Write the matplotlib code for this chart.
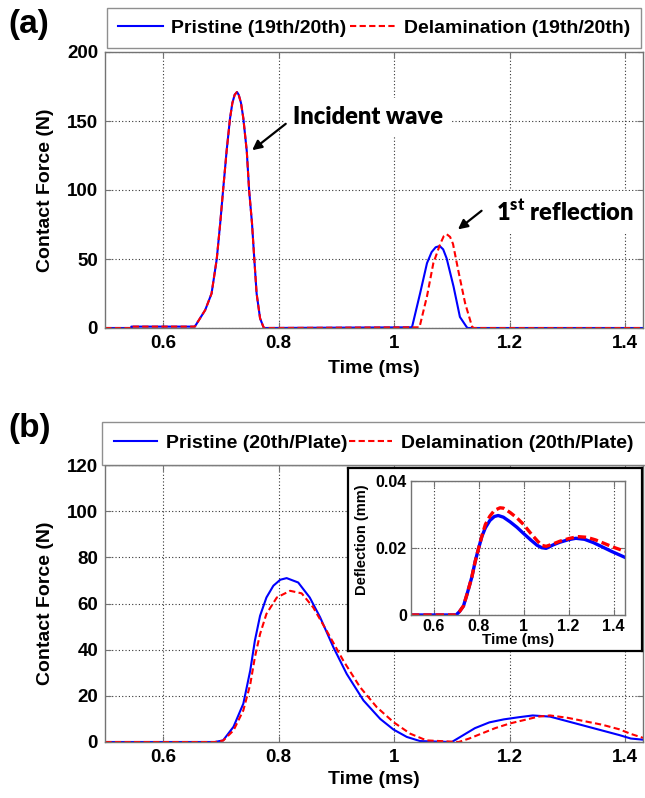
import matplotlib
matplotlib.use('Agg')
import matplotlib.pyplot as plt

plt.rcParams['font.family'] = ['Liberation Sans', 'DejaVu Sans']
plt.rcParams['font.weight'] = 'bold'
plt.rcParams['mathtext.fontset'] = 'custom'
plt.rcParams['mathtext.rm'] = 'Lato:heavy'
plt.rcParams['mathtext.bf'] = 'Lato:heavy'

W, H = 645, 798

# ── data: (a) contact force, 19th/20th ───────────────────────
t_a_pri = [0.50, 0.545, 0.545, 0.655, 0.673, 0.684, 0.693, 0.699, 0.704, 0.710, 0.716,
           0.720, 0.724, 0.728, 0.731, 0.735, 0.739, 0.745, 0.749, 0.754, 0.758, 0.762,
           0.768, 0.774, 0.776,
           1.031, 1.045, 1.057, 1.065, 1.072, 1.079, 1.085, 1.091, 1.103, 1.114, 1.126,
           1.128, 1.431]
f_a_pri = [0, 0, 1, 1, 13, 25, 50, 76, 100, 128, 152,
           163, 169, 171, 169, 163, 152, 128, 100, 76, 50, 25,
           7, 0.5, 0,
           0.5, 25, 47, 55, 58.5, 59.4, 57, 50.5, 30, 8, 0.5,
           0, 0]
t_a_del = [0.50, 0.545, 0.545, 0.655, 0.673, 0.684, 0.693, 0.699, 0.704, 0.710, 0.716,
           0.720, 0.724, 0.728, 0.731, 0.735, 0.739, 0.745, 0.749, 0.754, 0.758, 0.762,
           0.768, 0.774, 0.776,
           1.044, 1.057, 1.068, 1.080, 1.086, 1.091, 1.097, 1.102, 1.111, 1.123, 1.135,
           1.138, 1.431]
f_a_del = [0, 0, 1, 1, 13, 25, 50, 76, 100, 128, 152,
           163, 169, 171, 169, 163, 152, 128, 100, 76, 50, 25,
           7, 0.5, 0,
           0.5, 23, 47, 61, 66.5, 68, 66, 61, 42, 18, 1,
           0, 0]

# ── data: (b) contact force, 20th/plate ─────────────────────
t_b_pri = [0.50, 0.69, 0.704, 0.722, 0.739, 0.751, 0.759, 0.768, 0.779, 0.791, 0.803, 0.814,
           0.834, 0.854, 0.872, 0.895, 0.918, 0.947, 0.976, 0.999, 1.022, 1.045, 1.10,
           1.12, 1.14, 1.165, 1.19, 1.215, 1.24, 1.27, 1.30, 1.33, 1.36, 1.39, 1.41, 1.431]
f_b_pri = [0, 0, 0.7, 6.6, 16.6, 31, 43.9, 54.7, 62.6, 67.7, 70.3, 71,
           69.1, 62.6, 54, 41, 29.5, 18, 10, 5.4, 2.2, 0.4, 0,
           3, 6, 8.5, 9.8, 10.7, 11.5, 11, 9, 7, 5, 3, 1.5, 1]
t_b_del = [0.50, 0.69, 0.704, 0.722, 0.739, 0.751, 0.759, 0.768, 0.779, 0.797, 0.82, 0.84,
           0.86, 0.883, 0.912, 0.941, 0.970, 0.999, 1.028, 1.056, 1.112, 1.13, 1.15,
           1.175, 1.20, 1.225, 1.25, 1.27, 1.30, 1.33, 1.36, 1.39, 1.41, 1.431]
f_b_del = [0, 0, 0.6, 5, 13.7, 25, 36.7, 46.8, 55.5, 62.6, 65.5, 64.4,
           58.3, 48.3, 35.3, 23.8, 15.1, 8.6, 3.6, 0.7, 0, 1.5, 3.5,
           6, 8, 9.5, 11, 11.5, 10.5, 9, 7.5, 5.5, 3.5, 1.8]

# ── data: inset deflection ──────────────────────────────────
t_in_pri = [0.50, 0.70, 0.715, 0.733, 0.75, 0.77, 0.785, 0.80, 0.815, 0.83, 0.85, 0.87,
            0.887, 0.91, 0.94, 0.97, 0.997, 1.03, 1.06, 1.08, 1.10, 1.13, 1.16, 1.20,
            1.232, 1.27, 1.31, 1.35, 1.39, 1.45]
d_in_pri = [0, 0, 0.001, 0.0027, 0.0065, 0.0113, 0.016, 0.0199, 0.0235, 0.026, 0.0282, 0.0294,
            0.0297, 0.0292, 0.0278, 0.0262, 0.0245, 0.0225, 0.0208, 0.0201, 0.0199, 0.0209,
            0.0217, 0.0225, 0.0229, 0.0226, 0.0216, 0.0203, 0.019, 0.0172]
t_in_del = [0.50, 0.70, 0.715, 0.733, 0.75, 0.77, 0.785, 0.80, 0.815, 0.83, 0.85, 0.87,
            0.895, 0.91, 0.94, 0.97, 1.00, 1.03, 1.06, 1.08, 1.10, 1.13, 1.16, 1.20,
            1.24, 1.28, 1.32, 1.36, 1.40, 1.45]
d_in_del = [0, 0, 0.001, 0.0027, 0.0065, 0.0113, 0.016, 0.0199, 0.0237, 0.027, 0.0295, 0.0312,
            0.032, 0.0319, 0.0306, 0.029, 0.027, 0.0245, 0.0222, 0.0208, 0.0205, 0.0212,
            0.022, 0.0228, 0.0234, 0.0232, 0.0224, 0.0213, 0.0202, 0.019]

x_ticks = [0.6, 0.8, 1.0, 1.2, 1.4]
x_ticklabels = ['0.6', '0.8', '1', '1.2', '1.4']

BLUE = '#0000ff'
RED = '#ff0000'
SPINE = '0.45'


def px_rect(left, top, right, bottom):
    return [left / W, 1 - bottom / H, (right - left) / W, (bottom - top) / H]


def style_axes(ax, fs=13.5):
    for s in ax.spines.values():
        s.set_color(SPINE)
        s.set_linewidth(1.0)
    ax.tick_params(direction='in', length=4, width=0.8, color=SPINE,
                   labelsize=fs, pad=5, top=True, right=True)
    ax.grid(True, linestyle=(0, (1, 2)), color='0.2', linewidth=0.8)


fig = plt.figure(figsize=(W / 100, H / 100), dpi=100)

# ── (a) ─────────────────────────────────────────────────────
ax1 = fig.add_axes(px_rect(105, 52, 643, 328))
ax1.plot(t_a_pri, f_a_pri, color=BLUE, lw=1.5, label='Pristine (19th/20th)')
ax1.plot(t_a_del, f_a_del, color=RED, lw=1.5, dashes=(3, 1.6), label='Delamination (19th/20th)')
ax1.set_xlim(0.4995, 1.431)
ax1.set_ylim(0, 200)
ax1.set_yticks([0, 50, 100, 150, 200])
ax1.set_xticks(x_ticks)
ax1.set_xticklabels(x_ticklabels)
style_axes(ax1)
ax1.set_xlabel('Time (ms)', fontsize=14, fontweight='bold')
ax1.set_ylabel('Contact Force (N)', fontsize=14, fontweight='bold')
ax1.xaxis.set_label_coords(0.5, -0.145)
ax1.xaxis.label.set_va('center')
ax1.yaxis.set_label_coords(-0.1115, 0.5)
ax1.yaxis.label.set_va('center')
leg = ax1.legend(loc='lower center', bbox_to_anchor=(0.5, 1.0145), ncol=2, fontsize=14,
                 frameon=True, fancybox=False, edgecolor=SPINE, handlelength=2.3,
                 handletextpad=0.45, columnspacing=0.2, borderpad=0.58, borderaxespad=0)
leg.get_frame().set_linewidth(1.0)

ax1.text(0.489, 0.764, 'Incident wave', transform=ax1.transAxes, ha='center', va='center',
         fontsize=17, family=['Lato', 'DejaVu Sans'], fontweight='heavy',
         bbox=dict(boxstyle='square,pad=0.35', fc='white', ec='none'))
ax1.annotate('', xy=(0.2695, 0.638), xytext=(0.340, 0.746), xycoords='axes fraction',
             arrowprops=dict(arrowstyle='-|>', color='black', lw=1.6, mutation_scale=14), zorder=5)
ax1.text(0.855, 0.420, r'1$^{\rm st}$ reflection', transform=ax1.transAxes, ha='center', va='center',
         fontsize=17, family=['Lato', 'DejaVu Sans'], fontweight='heavy',
         bbox=dict(boxstyle='square,pad=0.35', fc='white', ec='none'))
ax1.annotate('', xy=(0.652, 0.351), xytext=(0.704, 0.431), xycoords='axes fraction',
             arrowprops=dict(arrowstyle='-|>', color='black', lw=1.6, mutation_scale=14), zorder=5)

# ── (b) ─────────────────────────────────────────────────────
ax2 = fig.add_axes(px_rect(105, 465, 643, 742))
ax2.plot(t_b_pri, f_b_pri, color=BLUE, lw=1.5, label='Pristine (20th/Plate)')
ax2.plot(t_b_del, f_b_del, color=RED, lw=1.5, dashes=(3, 1.6), label='Delamination (20th/Plate)')
ax2.set_xlim(0.4995, 1.431)
ax2.set_ylim(0, 120)
ax2.set_yticks([0, 20, 40, 60, 80, 100, 120])
ax2.set_xticks(x_ticks)
ax2.set_xticklabels(x_ticklabels)
style_axes(ax2)
ax2.set_xlabel('Time (ms)', fontsize=14, fontweight='bold')
ax2.set_ylabel('Contact Force (N)', fontsize=14, fontweight='bold')
ax2.xaxis.set_label_coords(0.5, -0.137)
ax2.xaxis.label.set_va('center')
ax2.yaxis.set_label_coords(-0.1115, 0.5)
ax2.yaxis.label.set_va('center')
leg2 = ax2.legend(loc='lower center', bbox_to_anchor=(0.5, 1.0), ncol=2, fontsize=14,
                  frameon=True, fancybox=False, edgecolor=SPINE, handlelength=2.2,
                  handletextpad=0.45, columnspacing=0.1, borderpad=0.66, borderaxespad=0)
leg2.get_frame().set_linewidth(1.0)

# inset frame
box = fig.add_axes(px_rect(348, 468, 642, 651))
box.set_xticks([])
box.set_yticks([])
for s in box.spines.values():
    s.set_color('black')
    s.set_linewidth(1.6)

ax3 = fig.add_axes(px_rect(411, 481, 625, 615))
ax3.plot(t_in_pri, d_in_pri, color=BLUE, lw=2.4)
ax3.plot(t_in_del, d_in_del, color=RED, lw=2.4, dashes=(2.5, 1.2))
ax3.set_xlim(0.5, 1.45)
ax3.set_ylim(0, 0.04)
ax3.set_yticks([0, 0.02, 0.04])
ax3.set_yticklabels(['0', '0.02', '0.04'])
ax3.set_xticks(x_ticks)
ax3.set_xticklabels(x_ticklabels)
style_axes(ax3, fs=11.5)
ax3.tick_params(pad=3)
ax3.set_xlabel('Time (ms)', fontsize=11, fontweight='bold')
ax3.set_ylabel('Deflection (mm)', fontsize=10.5, fontweight='bold')
ax3.xaxis.set_label_coords(0.5, -0.188)
ax3.xaxis.label.set_va('center')
ax3.yaxis.set_label_coords(-0.229, 0.56)
ax3.yaxis.label.set_va('center')

fig.text(8 / W, 1 - 25 / H, '(a)', fontsize=24, fontweight='bold', ha='left', va='center')
fig.text(8 / W, 1 - 428 / H, '(b)', fontsize=24, fontweight='bold', ha='left', va='center')

fig.savefig('out.png', dpi=100)
